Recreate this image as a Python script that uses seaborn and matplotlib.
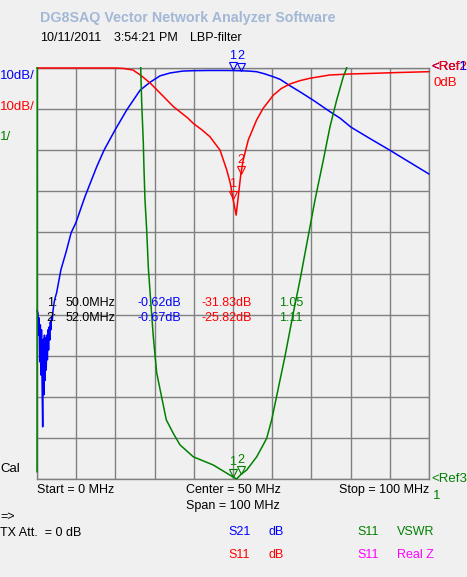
import numpy as np
import pandas as pd
import matplotlib
matplotlib.use("Agg")
import matplotlib.pyplot as plt
from matplotlib.transforms import ScaledTranslation, Bbox, TransformedBbox
import seaborn as sns

# S21 (dB), 0 dB ref at top, 10 dB/div
s21_freq = [0, 0.25, 0.4, 0.55, 0.7, 0.85, 1.0, 1.15, 1.3, 1.45, 1.6, 1.75, 1.9, 2.05,
            2.2, 2.35, 2.5, 2.65, 2.8, 2.95, 3.1, 3.25, 3.4, 3.55, 3.7, 3.9, 4.1, 4.4,
            4.7, 5.0, 6.1, 7.5, 8.7, 9.9, 12.2, 15.2, 17.1, 19.9, 22.9, 26.3, 28.8,
            31.4, 34.0, 37.2, 40, 44, 48, 50, 52, 54, 56, 58, 60.2, 62, 64.5, 67.1,
            70.4, 74.7, 77.3, 80.1, 85, 90, 95, 100]
s21_db = [-59, -59.6, -65, -60.8, -71.5, -62.5, -74.7, -63.7, -77, -87.3, -66, -79.5,
          -65, -76, -65.7, -73.5, -65, -71, -63.7, -68.6, -63, -66.2, -61.8, -63.7,
          -60.8, -61.3, -58.9, -56.9, -55.7, -54.7, -49.1, -44.5, -40.1, -37.7, -31.4,
          -24.1, -20.0, -15.1, -10.2, -5.4, -3.5, -1.9, -1.2, -0.75, -0.65, -0.6, -0.6,
          -0.62, -0.67, -0.75, -0.9, -1.4, -2.1, -2.75, -4.3, -5.8, -7.8, -10.6, -12.2,
          -14.4, -17.2, -20.0, -22.9, -25.8]

# S11 (dB), 0 dB ref at top, 10 dB/div
s11_freq = [0, 10, 20, 22, 24.5, 26.5, 28.8, 31.5, 34.8, 38.5, 39.9, 42, 44.1, 46.7,
            48.4, 49.3, 50, 50.8, 51.5, 52, 52.6, 53.9, 56.0, 57.7, 60.3, 62.3, 64.5,
            67, 69.6, 74.7, 80, 85.7, 92, 100]
s11_db = [0, 0, 0, -0.1, -0.5, -1.8, -3.6, -6.2, -9.4, -12.2, -13.5, -15.0, -16.7,
          -20.0, -24.8, -28, -31.83, -35.8, -30, -25.82, -22.4, -17.5, -12.7, -9.8,
          -6.6, -5.0, -3.9, -3.1, -2.5, -1.7, -1.45, -1.3, -1.1, -0.9]

# S11 VSWR, ref 1 at bottom, 1/div
vswr_freq = [0, 0.25, 26.0, 26.45, 26.71, 27.12, 27.3, 27.55, 27.98, 28.39, 28.8, 29.67,
             30.54, 32.98, 34.77, 36.48, 39.87, 44.97, 50.0, 50.9, 52, 53.5, 56.05, 58.6,
             59.87, 63.27, 65.38, 67.09, 70.92, 73.04, 74.74, 76.45, 78.14, 79.0, 80, 100]
vswr = [1.17, 40, 20, 11.0, 10.15, 9.18, 8.52, 7.79, 7.06, 6.16, 5.6, 4.46, 3.58, 2.44,
        2.11, 1.83, 1.54, 1.34, 1.05, 1.0, 1.11, 1.22, 1.54, 1.99, 2.44, 3.99, 5.04,
        5.84, 7.79, 8.76, 9.57, 10.22, 10.79, 11.0, 13, 40]

marker_freq = [50.0, 52.0]
marker_s21 = [-0.62, -0.67]
marker_s11 = [-31.83, -25.82]
marker_vswr = [1.05, 1.11]

BLUE, RED, GREEN, MAG = "#0000FF", "#FF0000", "#008000", "#FF00FF"
BG = "#F0F0F0"
W, H = 467, 577

sns.set_theme(style="whitegrid", rc={"figure.facecolor": BG, "axes.facecolor": BG})
plt.rcParams["font.family"] = ["Liberation Sans", "DejaVu Sans"]

fig = plt.figure(figsize=(W / 100, H / 100), dpi=100)
ax = fig.add_axes([37 / W, 1 - 479 / H, 392 / W, 411 / H])
ax2 = ax.twinx()

df21 = pd.DataFrame({"f": s21_freq, "v": s21_db})
df11 = pd.DataFrame({"f": s11_freq, "v": s11_db})
dfsw = pd.DataFrame({"f": vswr_freq, "v": vswr})

# dB traces never leave the 0..-100 window, so they may sit over the frame
sns.lineplot(data=df21, x="f", y="v", ax=ax, color=BLUE, lw=1.1, estimator=None,
             zorder=3, clip_on=False)
sns.lineplot(data=df11, x="f", y="v", ax=ax, color=RED, lw=1.1, estimator=None,
             zorder=3, clip_on=False)
sns.lineplot(data=dfsw, x="f", y="v", ax=ax2, color=GREEN, lw=1.1, estimator=None,
             zorder=3)
# let the VSWR trace show over the left frame line, still cut at top/bottom
clip = TransformedBbox(Bbox([[-0.004, -0.002], [1.0, 1.002]]), ax2.transAxes)
for ln in ax2.lines:
    ln.set_clip_box(clip)

ax.set_xlim(0, 100)
ax.set_ylim(-100, 0)
ax2.set_ylim(1, 11)
ax.set_xticks(np.arange(0, 101, 10))
ax.set_yticks(np.arange(-100, 1, 10))
ax.grid(True, color="#808080", lw=1.0)
ax2.grid(False)
for a in (ax, ax2):
    a.set_xlabel("")
    a.set_ylabel("")
    a.tick_params(length=0, labelleft=False, labelright=False, labelbottom=False)
for sp in ax.spines.values():
    sp.set_color("#808080")
    sp.set_linewidth(1.0)
    sp.set_zorder(1)
for sp in ax2.spines.values():
    sp.set_visible(False)
ax2.patch.set_visible(False)


def put_markers(axis, values, color):
    tri = axis.transData + ScaledTranslation(0, 3 / 72, fig.dpi_scale_trans)
    for i, (f, v) in enumerate(zip(marker_freq, values)):
        axis.plot([f], [v], marker="v", ms=6, mfc="none", mec=color, mew=0.8,
                  transform=tri, clip_on=False, zorder=4)
        axis.annotate(str(i + 1), (f, v), xytext=(0, 10.5), textcoords="offset points",
                      ha="center", va="center", color=color, fontsize=9,
                      annotation_clip=False)


put_markers(ax, marker_s21, BLUE)
put_markers(ax, marker_s11, RED)
put_markers(ax2, marker_vswr, GREEN)


def txt(x, y, s, color="black", size=9, **kw):
    fig.text(x / W, 1 - y / H, s, color=color, fontsize=size, va="center", **kw)


txt(40, 18, "DG8SAQ Vector Network Analyzer Software", "#A3B8D6", 10.3, fontweight="bold")
txt(40, 38, "10/11/2011")
txt(113.7, 38, "3:54:21 PM")
txt(189.7, 38, "LBP-filter")

txt(0, 76, "10dB/", BLUE, 9.5)
txt(0, 106.5, "10dB/", RED, 9.5)
txt(0, 137, "1/", GREEN, 9.5)
txt(0, 469, "Cal", size=9.5)

# the two reference tags share a spot in the original: "1" (blue) lies over "2"
txt(431, 67, "<Ref2", RED, 9.5)
txt(431, 67, "<Ref1", BLUE, 9.5)
txt(431, 67, "<Ref", RED, 9.5)
txt(433, 83, "0dB", RED, 9.5)
txt(431, 479, "<Ref3", GREEN, 9.5)
txt(433, 496, "1", GREEN, 9.5)

# marker readout table
rows_y = [302.7, 318.3]
for i in range(2):
    y = rows_y[i]
    txt(46.7, y, f"{i + 1}:")
    txt(65.3, y, f"{marker_freq[i]:.1f}MHz")
    txt(137.3, y, f"{marker_s21[i]:.2f}dB", BLUE)
    txt(201.3, y, f"{marker_s11[i]:.2f}dB", RED)
    txt(279, y, f"{marker_vswr[i]:.2f}", GREEN)

txt(37, 490, "Start = 0 MHz")
txt(185.7, 490, "Center = 50 MHz")
txt(185.7, 506, "Span = 100 MHz")
txt(429, 490, "Stop = 100 MHz", ha="right")
txt(0, 517, "=>")
txt(0, 533, "TX Att.  = 0 dB")

txt(228.7, 532, "S21", BLUE)
txt(268.7, 532, "dB", BLUE)
txt(228.7, 555, "S11", RED)
txt(268.7, 555, "dB", RED)
txt(357, 532, "S11", GREEN)
txt(397, 532, "VSWR", GREEN)
txt(357, 555, "S11", MAG)
txt(397, 555, "Real Z", MAG)

fig.savefig("out.png", dpi=100, facecolor=BG)
